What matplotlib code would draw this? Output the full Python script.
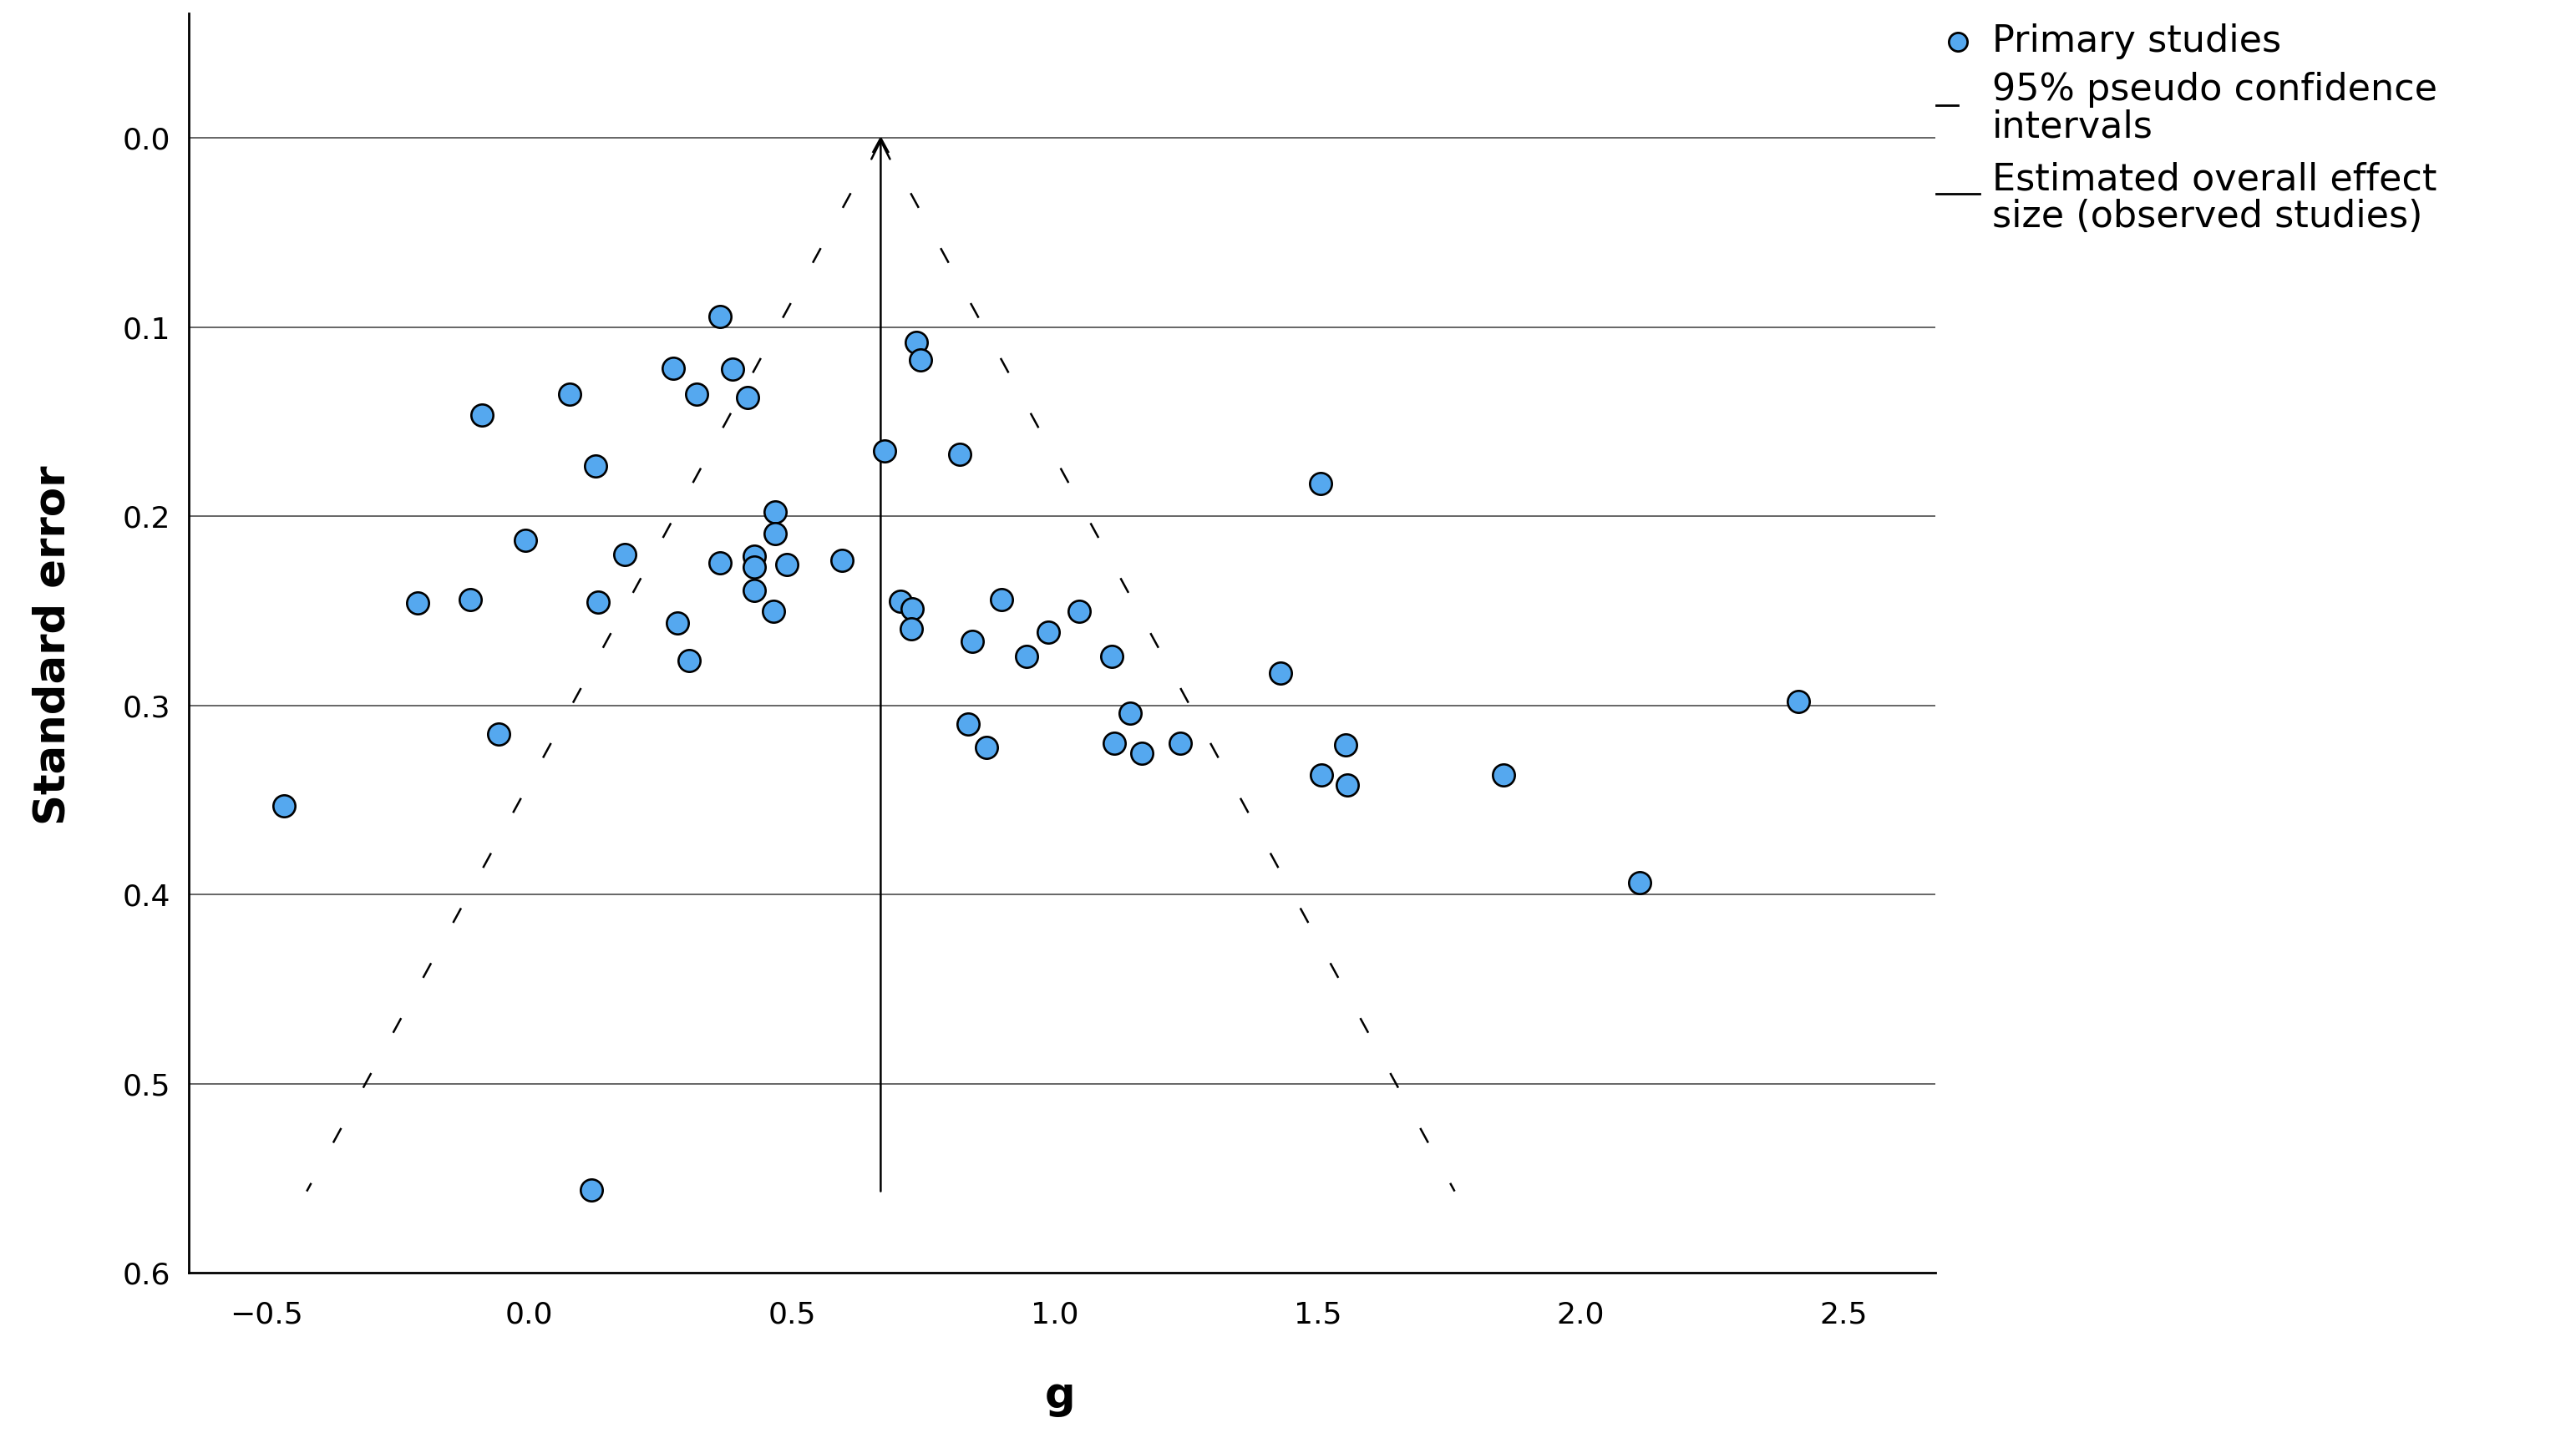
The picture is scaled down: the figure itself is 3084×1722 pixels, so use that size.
import matplotlib
matplotlib.use('Agg')
import matplotlib.pyplot as plt
from matplotlib.lines import Line2D

# 数据：效应量 g 与标准误
g_values = [
    -0.466, -0.211, -0.111, -0.090, -0.057, -0.007, 0.077, 0.126, 0.131, 0.119,
    0.183, 0.274, 0.282, 0.304, 0.319, 0.363, 0.363, 0.387, 0.415, 0.428,
    0.428, 0.429, 0.465, 0.469, 0.469, 0.490, 0.596, 0.677, 0.706, 0.728,
    0.727, 0.736, 0.744, 0.819, 0.836, 0.843, 0.870, 0.898, 0.946, 0.987,
    1.046, 1.109, 1.114, 1.143, 1.166, 1.239, 1.429, 1.505, 1.507, 1.553,
    1.556, 1.854, 2.113, 2.414,
]
se_values = [
    0.353, 0.246, 0.244, 0.1465, 0.315, 0.2125, 0.1355, 0.1735, 0.2455, 0.5565,
    0.2203, 0.1215, 0.2563, 0.2764, 0.1355, 0.0944, 0.2245, 0.1223, 0.1372, 0.2211,
    0.227, 0.2392, 0.2503, 0.1978, 0.2093, 0.2253, 0.2233, 0.1656, 0.245, 0.249,
    0.2593, 0.1082, 0.1175, 0.1673, 0.310, 0.2662, 0.322, 0.244, 0.2742, 0.2612,
    0.250, 0.274, 0.3201, 0.3041, 0.3252, 0.3201, 0.283, 0.1825, 0.337, 0.3211,
    0.342, 0.337, 0.3938, 0.298,
]

overall_g = 0.669      # 总体效应量估计
se_max = 0.557         # 漏斗线底端的标准误
z_95 = 1.96

x_ticks = [-0.5, 0.0, 0.5, 1.0, 1.5, 2.0, 2.5]
y_ticks = [0.0, 0.1, 0.2, 0.3, 0.4, 0.5, 0.6]

legend_labels = [
    'Primary studies',
    '95% pseudo confidence\nintervals',
    'Estimated overall effect\nsize (observed studies)',
]

point_color = '#55A8EF'

plt.rcParams['font.family'] = ['DejaVu Sans']

fig = plt.figure(figsize=(30.84, 17.22), dpi=100)
ax = fig.add_axes([0.0733, 0.115, 0.678, 0.8757])

# 网格线
for y in y_ticks[:-1]:
    ax.axhline(y, color='#3c3c3c', linewidth=1.1, zorder=1)

# 95% 伪置信区间（虚线）
for sign in (-1, 1):
    ax.plot([overall_g, overall_g + sign * z_95 * se_max], [0.0, se_max],
            color='black', linewidth=1.8, linestyle=(0, (8, 22)), zorder=2)

# 总体效应量（带箭头的竖线）
ax.annotate('', xy=(overall_g, 0.0), xytext=(overall_g, se_max),
            arrowprops=dict(arrowstyle='->,head_length=0.8,head_width=0.4',
                            color='black', linewidth=1.8, mutation_scale=20,
                            shrinkA=0, shrinkB=0), zorder=3)

# 原始研究散点
ax.scatter(g_values, se_values, s=360, color=point_color, edgecolors='black',
           linewidths=1.9, zorder=4)

ax.set_xlim(-0.647, 2.675)
ax.set_ylim(0.6, -0.066)
ax.set_xticks(x_ticks)
ax.set_yticks(y_ticks)
ax.set_xticklabels([f'{t:.1f}'.replace('-', '\u2212') for t in x_ticks])
ax.set_yticklabels([f'{t:.1f}' for t in y_ticks])
ax.tick_params(axis='x', length=0, pad=24, labelsize=26)
ax.tick_params(axis='y', length=0, pad=16, labelsize=26)

for side in ('top', 'right'):
    ax.spines[side].set_visible(False)
for side in ('left', 'bottom'):
    ax.spines[side].set_linewidth(2.0)
    ax.spines[side].set_color('black')

fig.text(0.4115, 0.029, 'g', fontsize=37, fontweight='bold', ha='center', va='center')
fig.text(0.0205, 0.551, 'Standard error', fontsize=37, fontweight='bold',
         rotation=90, ha='center', va='center')

# 图例（手动绘制）
fig.add_artist(Line2D([0.760], [0.971], marker='o', markersize=16,
                      markerfacecolor=point_color, markeredgecolor='black',
                      markeredgewidth=2.0, linestyle='none', transform=fig.transFigure))
fig.add_artist(Line2D([0.7516, 0.760], [0.9268, 0.9268], color='black',
                      linewidth=2.0, transform=fig.transFigure))
fig.add_artist(Line2D([0.7516, 0.7685], [0.8653, 0.8653], color='black',
                      linewidth=2.0, transform=fig.transFigure))

legend_y = [0.971, 0.9245, 0.862]
for label, y in zip(legend_labels, legend_y):
    fig.text(0.7733, y, label, fontsize=32, ha='left', va='center', linespacing=1.05)

fig.savefig('out.png', dpi=100)
